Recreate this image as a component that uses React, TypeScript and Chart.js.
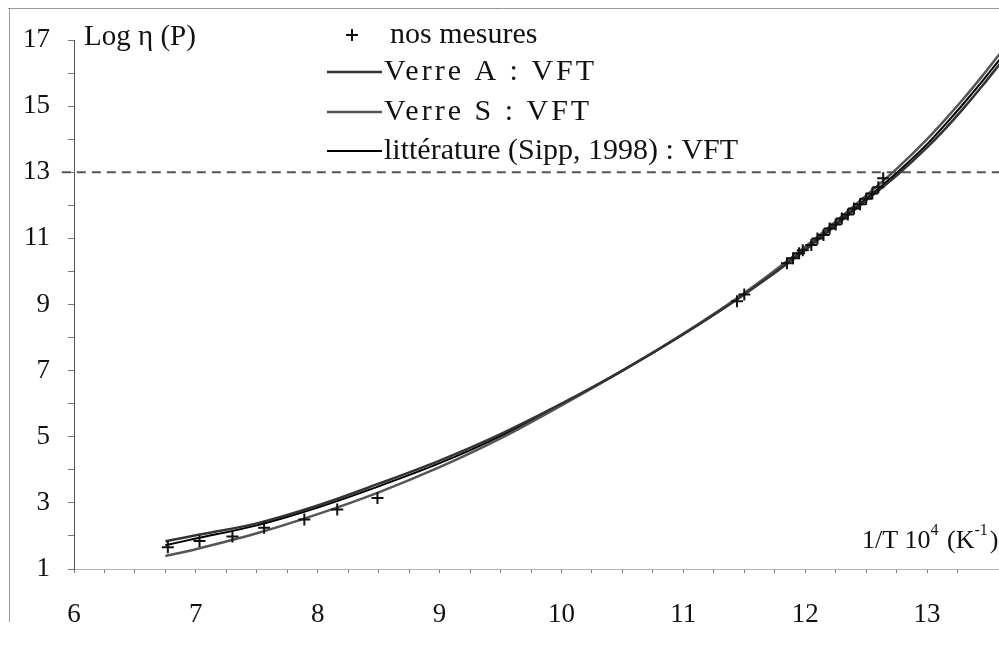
import React, { useEffect, useRef } from 'react';
import { Chart, registerables } from 'chart.js';

Chart.register(...registerables);

// ---- data ----
const curveX = [6.75, 7, 7.5, 8, 8.5, 9, 9.5, 10, 10.5, 11, 11.5, 12, 12.5, 12.75, 13, 13.15, 13.3, 13.45, 13.6];
const verreA = [1.84, 2.02, 2.38, 2.92, 3.58, 4.28, 5.08, 6.0, 7.0, 8.1, 9.3, 10.65, 12.15, 12.9, 13.75, 14.32, 14.94, 15.6, 16.29];
const verreS = [1.39, 1.6, 2.08, 2.66, 3.32, 4.08, 4.95, 5.95, 7.0, 8.12, 9.35, 10.75, 12.3, 13.1, 14.0, 14.6, 15.23, 15.9, 16.6];
const litterature = [1.72, 1.92, 2.32, 2.86, 3.5, 4.2, 5.02, 5.98, 7.0, 8.1, 9.32, 10.7, 12.2, 12.98, 13.85, 14.45, 15.08, 15.74, 16.43];

const mesuresX = [6.77, 7.03, 7.3, 7.56, 7.89, 8.16, 8.49, 11.44, 11.5, 11.85, 11.9, 11.95, 11.98, 12.05, 12.1, 12.15, 12.2, 12.25, 12.3, 12.35, 12.4, 12.45, 12.5, 12.55, 12.6, 12.64];
const mesuresY = [1.66, 1.85, 1.98, 2.25, 2.5, 2.8, 3.15, 9.1, 9.3, 10.25, 10.4, 10.55, 10.64, 10.8, 11.0, 11.1, 11.3, 11.42, 11.6, 11.72, 11.9, 12.03, 12.2, 12.36, 12.55, 12.82];

const seuilX = [5.9, 13.59];
const seuilY = [13, 13];

const xMin = 6;
const xMax = 13.59;
const yMin = 1;
const yMax = 17;
const xLabelTicks = [6, 7, 8, 9, 10, 11, 12, 13];
const yLabelTicks = [1, 3, 5, 7, 9, 11, 13, 15, 17];

const labels = {
  mesures: 'nos mesures',
  verreA: 'Verre A : VFT',
  verreS: 'Verre S : VFT',
  litt: 'littérature (Sipp, 1998) : VFT',
  yTitle: 'Log η (P)',
};

const SERIF = '"Liberation Serif", "DejaVu Serif", serif';

const zip = (xs: number[], ys: number[]) => xs.map((x, i) => ({ x, y: ys[i] }));

const overlay = {
  id: 'overlay',
  afterDraw(chart: any) {
    const ctx: CanvasRenderingContext2D = chart.ctx;
    ctx.save();
    // scanned frame
    ctx.strokeStyle = '#9a9a9a';
    ctx.lineWidth = 1;
    ctx.beginPath();
    ctx.moveTo(8, 8.5);
    ctx.lineTo(999, 8.5);
    ctx.moveTo(9.5, 8);
    ctx.lineTo(9.5, 622);
    ctx.stroke();

    ctx.fillStyle = '#111';
    ctx.textBaseline = 'middle';
    ctx.textAlign = 'left';
    ctx.font = `29px ${SERIF}`;
    ctx.fillText(labels.yTitle, 84, 37);

    // x title with superscripts: 1/T 10^4 (K^-1)
    let x = 862;
    const yb = 541;
    const big = `26px ${SERIF}`;
    const small = `16px ${SERIF}`;
    const parts: [string, boolean][] = [['1/T 10', false], ['4', true], [' (K', false], ['-1', true], [')', false]];
    parts.forEach(([t, sup]) => {
      ctx.font = sup ? small : big;
      ctx.fillText(t, x, sup ? yb - 10 : yb);
      x += ctx.measureText(t).width + (sup ? 2 : 0);
    });

    // legend
    const ds = chart.data.datasets;
    ctx.font = `30px ${SERIF}`;
    const cx = 352, cy = 35;
    ctx.strokeStyle = '#111';
    ctx.lineWidth = 2;
    ctx.beginPath();
    ctx.moveTo(cx - 6, cy); ctx.lineTo(cx + 6, cy);
    ctx.moveTo(cx, cy - 6); ctx.lineTo(cx, cy + 6);
    ctx.stroke();
    ctx.fillText(ds[0].label, 390, 35);
    const rows = [72, 112, 151];
    [1, 2, 3].forEach((di, k) => {
      const d = ds[di];
      ctx.strokeStyle = d.borderColor;
      ctx.lineWidth = d.borderWidth;
      ctx.beginPath();
      ctx.moveTo(327, rows[k]);
      ctx.lineTo(382, rows[k]);
      ctx.stroke();
      (ctx as any).letterSpacing = di === 3 ? '0px' : '3px';
      ctx.fillText(d.label, 384, rows[k]);
    });
    (ctx as any).letterSpacing = '0px';
    ctx.restore();
  },
};

export default function App() {
  const ref = useRef<HTMLCanvasElement | null>(null);
  useEffect(() => {
    if (!ref.current) return;
    const chart = new Chart(ref.current, {
      type: 'scatter',
      data: {
        datasets: [
          {
            label: labels.mesures,
            data: zip(mesuresX, mesuresY),
            showLine: false,
            pointStyle: 'cross',
            pointRadius: 6,
            pointBorderWidth: 2,
            borderColor: '#111',
            backgroundColor: '#111',
            order: 0,
          },
          {
            label: labels.verreA,
            data: zip(curveX, verreA),
            showLine: true,
            borderColor: '#333',
            borderWidth: 2.5,
            pointRadius: 0,
            cubicInterpolationMode: 'monotone',
            order: 1,
          },
          {
            label: labels.verreS,
            data: zip(curveX, verreS),
            showLine: true,
            borderColor: '#555',
            borderWidth: 2.5,
            pointRadius: 0,
            cubicInterpolationMode: 'monotone',
            order: 2,
          },
          {
            label: labels.litt,
            data: zip(curveX, litterature),
            showLine: true,
            borderColor: '#000',
            borderWidth: 2,
            pointRadius: 0,
            cubicInterpolationMode: 'monotone',
            order: 3,
          },
          {
            label: '',
            data: zip(seuilX, seuilY),
            showLine: true,
            borderColor: '#555',
            borderWidth: 2,
            borderDash: [9, 6],
            pointRadius: 0,
            clip: false as any,
            order: 4,
          },
        ] as any,
      },
      options: {
        animation: false,
        responsive: false,
        maintainAspectRatio: false,
        layout: { autoPadding: false, padding: { top: 40, right: 0, left: 0, bottom: 0 } },
        plugins: { legend: { display: false }, tooltip: { enabled: false } },
        scales: {
          x: {
            type: 'linear',
            min: xMin,
            max: xMax,
            afterFit: (s: any) => { s.height = 77; s.paddingRight = 0; s.paddingLeft = 0; },
            border: { display: true, color: '#b5b5b5', width: 1 },
            grid: { drawOnChartArea: false, drawTicks: true, tickLength: 4, color: '#777' },
            ticks: {
              stepSize: 0.25,
              autoSkip: false,
              maxRotation: 0,
              padding: 26,
              color: '#111',
              font: { family: SERIF, size: 27 },
              callback: (v: any) => (xLabelTicks.includes(Number(v)) ? String(v) : ''),
            },
          },
          y: {
            type: 'linear',
            min: yMin,
            max: yMax,
            afterFit: (s: any) => { s.width = 74; s.paddingTop = 0; s.paddingBottom = 0; },
            border: { display: true, color: '#555', width: 1 },
            grid: { drawOnChartArea: false, drawTicks: true, tickLength: 6, color: '#777' },
            ticks: {
              stepSize: 1,
              autoSkip: false,
              padding: 18,
              color: '#111',
              font: { family: SERIF, size: 27 },
              callback: (v: any) => (yLabelTicks.includes(Number(v)) ? String(v) : ''),
            },
          },
        },
      } as any,
      plugins: [overlay],
    });
    return () => chart.destroy();
  }, []);
  return (
    <div style={{ position: 'absolute', left: 0, top: 0, width: 999, height: 646, background: '#fff' }}>
      <canvas ref={ref} width={999} height={646} style={{ display: 'block' }} />
    </div>
  );
}
